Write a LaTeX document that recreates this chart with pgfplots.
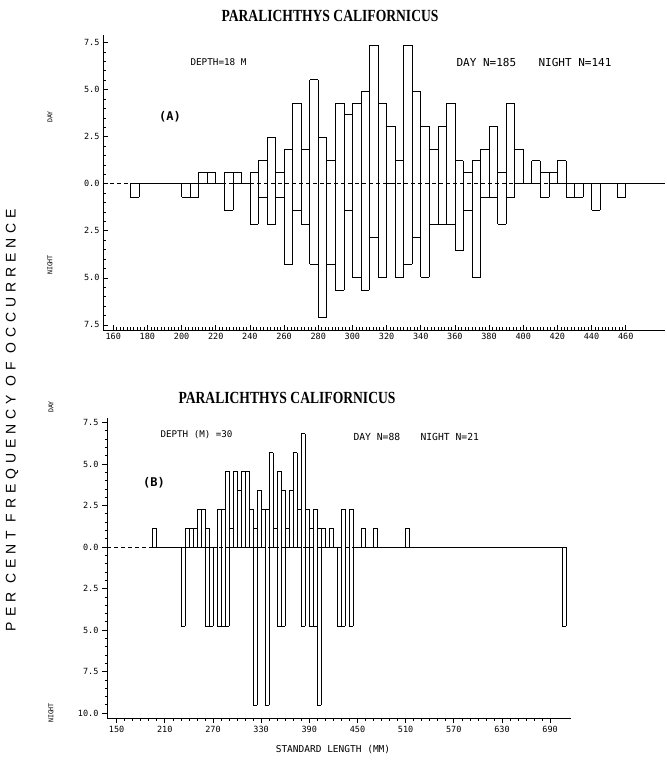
\documentclass[border=0pt]{standalone}
\usepackage{fontspec}
\newfontfamily\plotfont{DejaVu Sans Mono}
\newfontfamily\titlefont{Liberation Serif}
\newfontfamily\bigfont{Liberation Sans}[LetterSpace=35]
\usepackage{pgfplots}
\pgfplotsset{compat=1.18}

% histogram bins: lo hi mid day(%) night(%)
\pgfplotstableread{
lo hi mid d n
170 175 172.5 0 -0.71
175 180 177.5 0 0
180 185 182.5 0 0
185 190 187.5 0 0
190 195 192.5 0 0
195 200 197.5 0 0
200 205 202.5 0 -0.71
205 210 207.5 0 -0.71
210 215 212.5 0.61 0
215 220 217.5 0.61 0
220 225 222.5 0 0
225 230 227.5 0.61 -1.42
230 235 232.5 0.61 0
235 240 237.5 0 0
240 245 242.5 0.61 -2.13
245 250 247.5 1.23 -0.71
250 255 252.5 2.45 -2.13
255 260 257.5 0.61 -0.71
260 265 262.5 1.84 -4.26
265 270 267.5 4.29 -1.42
270 275 272.5 1.84 -2.13
275 280 277.5 5.52 -4.26
280 285 282.5 2.45 -7.09
285 290 287.5 1.23 -4.26
290 295 292.5 4.29 -5.67
295 300 297.5 3.68 -1.42
300 305 302.5 4.29 -4.96
305 310 307.5 4.90 -5.67
310 315 312.5 7.36 -2.84
315 320 317.5 4.29 -4.96
320 325 322.5 3.07 0
325 330 327.5 1.23 -4.96
330 335 332.5 7.36 -4.26
335 340 337.5 4.90 -2.84
340 345 342.5 3.07 -4.96
345 350 347.5 1.84 -2.13
350 355 352.5 3.07 -2.13
355 360 357.5 4.29 -2.13
360 365 362.5 1.23 -3.55
365 370 367.5 0.61 -1.42
370 375 372.5 1.23 -4.96
375 380 377.5 1.84 -0.71
380 385 382.5 3.07 -0.71
385 390 387.5 0.61 -2.13
390 395 392.5 4.29 -0.71
395 400 397.5 1.84 0
400 405 402.5 0 0
405 410 407.5 1.23 0
410 415 412.5 0.61 -0.71
415 420 417.5 0.61 0
420 425 422.5 1.23 0
425 430 427.5 0 -0.71
430 435 432.5 0 -0.71
435 440 437.5 0 0
440 445 442.5 0 -1.42
445 450 447.5 0 0
450 455 452.5 0 0
455 460 457.5 0 -0.71
}\tabA

\pgfplotstableread{
lo hi mid d n
195 200 197.5 1.14 0
200 205 202.5 0 0
205 210 207.5 0 0
210 215 212.5 0 0
215 220 217.5 0 0
220 225 222.5 0 0
225 230 227.5 0 0
230 235 232.5 0 -4.76
235 240 237.5 1.14 0
240 245 242.5 1.14 0
245 250 247.5 1.14 0
250 255 252.5 2.27 0
255 260 257.5 2.27 0
260 265 262.5 1.14 -4.76
265 270 267.5 0 -4.76
270 275 272.5 0 0
275 280 277.5 2.27 -4.76
280 285 282.5 2.27 -4.76
285 290 287.5 4.55 -4.76
290 295 292.5 1.14 0
295 300 297.5 4.55 0
300 305 302.5 3.41 0
305 310 307.5 4.55 0
310 315 312.5 4.55 0
315 320 317.5 2.27 0
320 325 322.5 1.14 -9.52
325 330 327.5 3.41 0
330 335 332.5 2.27 0
335 340 337.5 2.27 -9.52
340 345 342.5 5.68 0
345 350 347.5 1.14 0
350 355 352.5 4.55 -4.76
355 360 357.5 3.41 -4.76
360 365 362.5 1.14 0
365 370 367.5 3.41 0
370 375 372.5 5.68 0
375 380 377.5 2.27 0
380 385 382.5 6.82 -4.76
385 390 387.5 2.27 0
390 395 392.5 1.14 -4.76
395 400 397.5 2.27 -4.76
400 405 402.5 1.14 -9.52
405 410 407.5 1.14 0
410 415 412.5 0 0
415 420 417.5 1.14 0
420 425 422.5 0 0
425 430 427.5 0 -4.76
430 435 432.5 2.27 -4.76
435 440 437.5 0 0
440 445 442.5 2.27 -4.76
445 450 447.5 0 0
450 455 452.5 0 0
455 460 457.5 1.14 0
460 465 462.5 0 0
465 470 467.5 0 0
470 475 472.5 1.14 0
475 480 477.5 0 0
480 485 482.5 0 0
485 490 487.5 0 0
490 495 492.5 0 0
495 500 497.5 0 0
500 505 502.5 0 0
505 510 507.5 0 0
510 515 512.5 1.14 0
705 710 707.5 0 -4.76
}\tabB

\pgfplotsset{
  comb/.style={ycomb, no marks, black, line width=0.6pt, forget plot},
  tops/.style={draw=none, mark=none, forget plot,
    error bars/.cd, x dir=both, x fixed=2.5, error mark=none,
    error bar style={draw=black, solid, line width=0.6pt}},
  panel/.style={anchor=south west, scale only axis,
    axis x line*=bottom, axis y line*=left,
    axis line style={line width=0.8pt, black},
    tick style={line width=0.6pt, black},
    major tick length=5pt, minor tick length=2.5pt,
    tick label style={font=\plotfont\fontsize{8.5}{9}\selectfont},
    /pgf/number format/assume math mode=true,
    /pgf/number format/1000 sep={}},
}

\begin{document}
\begin{tikzpicture}
\useasboundingbox (0pt,0pt) rectangle (667pt,761pt);

% ---- panel A
\begin{axis}[panel, at={(103pt,431pt)}, width=562pt, height=295pt,
  xmin=154, xmax=483, ymin=-7.77, ymax=7.9,
  xtick={160,180,...,460}, minor x tick num=9,
  ytick={-7.5,-5,-2.5,0,2.5,5,7.5},
  yticklabels={7.5,5.0,2.5,0.0,2.5,5.0,7.5}, minor y tick num=4,
  tick align=inside]
\addplot[black, line width=0.5pt, dash pattern=on 4pt off 3pt] coordinates {(154,0) (483,0)};
\addplot[black, line width=0.6pt] coordinates {(460,0) (483,0)};
\addplot[comb] table[x=lo, y=d] {\tabA};
\addplot[comb] table[x=hi, y=d] {\tabA};
\addplot[comb] table[x=lo, y=n] {\tabA};
\addplot[comb] table[x=hi, y=n] {\tabA};
\addplot[tops] table[x=mid, y=d] {\tabA};
\addplot[tops] table[x=mid, y=n] {\tabA};
\end{axis}

% ---- panel B
\begin{axis}[panel, at={(107pt,43pt)}, width=464pt, height=300pt,
  xmin=138, xmax=716, ymin=-10.3, ymax=7.77,
  xtick={150,210,...,690}, minor x tick num=5,
  ytick={-10,-7.5,-5,-2.5,0,2.5,5,7.5},
  yticklabels={10.0,7.5,5.0,2.5,0.0,2.5,5.0,7.5}, minor y tick num=4,
  tick align=outside]
\addplot[black, line width=0.5pt, dash pattern=on 4pt off 3pt] coordinates {(138,0) (710,0)};
\addplot[black, line width=0.5pt] coordinates {(515,0) (705,0)};
\addplot[comb] table[x=lo, y=d] {\tabB};
\addplot[comb] table[x=hi, y=d] {\tabB};
\addplot[comb] table[x=lo, y=n] {\tabB};
\addplot[comb] table[x=hi, y=n] {\tabB};
\addplot[tops] table[x=mid, y=d] {\tabB};
\addplot[tops] table[x=mid, y=n] {\tabB};
\end{axis}

% ---- titles and labels
\node[font=\titlefont\bfseries\fontsize{17}{17}\selectfont, xscale=0.8] at (330pt,745pt) {PARALICHTHYS CALIFORNICUS};
\node[font=\titlefont\bfseries\fontsize{17}{17}\selectfont, xscale=0.8] at (287pt,363pt) {PARALICHTHYS CALIFORNICUS};

\node[anchor=west, font=\plotfont\fontsize{9.3}{10}\selectfont] at (187pt,699pt) {DEPTH=18 M};
\node[anchor=west, font=\plotfont\fontsize{11}{12}\selectfont] at (453pt,698pt) {DAY N=185};
\node[anchor=west, font=\plotfont\fontsize{11}{12}\selectfont] at (535pt,698pt) {NIGHT N=141};
\node[font=\plotfont\bfseries\fontsize{12}{12}\selectfont] at (170pt,644pt) {(A)};

\node[anchor=west, font=\plotfont\fontsize{9.2}{10}\selectfont] at (157pt,326pt) {DEPTH (M) =30};
\node[anchor=west, font=\plotfont\fontsize{9.7}{10}\selectfont] at (350pt,324pt) {DAY N=88};
\node[anchor=west, font=\plotfont\fontsize{9.7}{10}\selectfont] at (417pt,324pt) {NIGHT N=21};
\node[font=\plotfont\bfseries\fontsize{12}{12}\selectfont] at (154pt,278pt) {(B)};

\node[rotate=90, font=\plotfont\fontsize{6.6}{7}\selectfont] at (50pt,644pt) {DAY};
\node[rotate=90, font=\plotfont\fontsize{6.6}{7}\selectfont] at (50pt,496pt) {NIGHT};
\node[rotate=90, font=\plotfont\fontsize{6.6}{7}\selectfont] at (51pt,354pt) {DAY};
\node[rotate=90, font=\plotfont\fontsize{6.6}{7}\selectfont] at (51pt,48pt) {NIGHT};

\node[rotate=90, font=\bigfont\fontsize{14}{14}\selectfont] at (12pt,341pt) {PER CENT FREQUENCY OF OCCURRENCE};
\node[font=\plotfont\fontsize{9.5}{10}\selectfont] at (333pt,11pt) {STANDARD LENGTH (MM)};
\end{tikzpicture}
\end{document}
